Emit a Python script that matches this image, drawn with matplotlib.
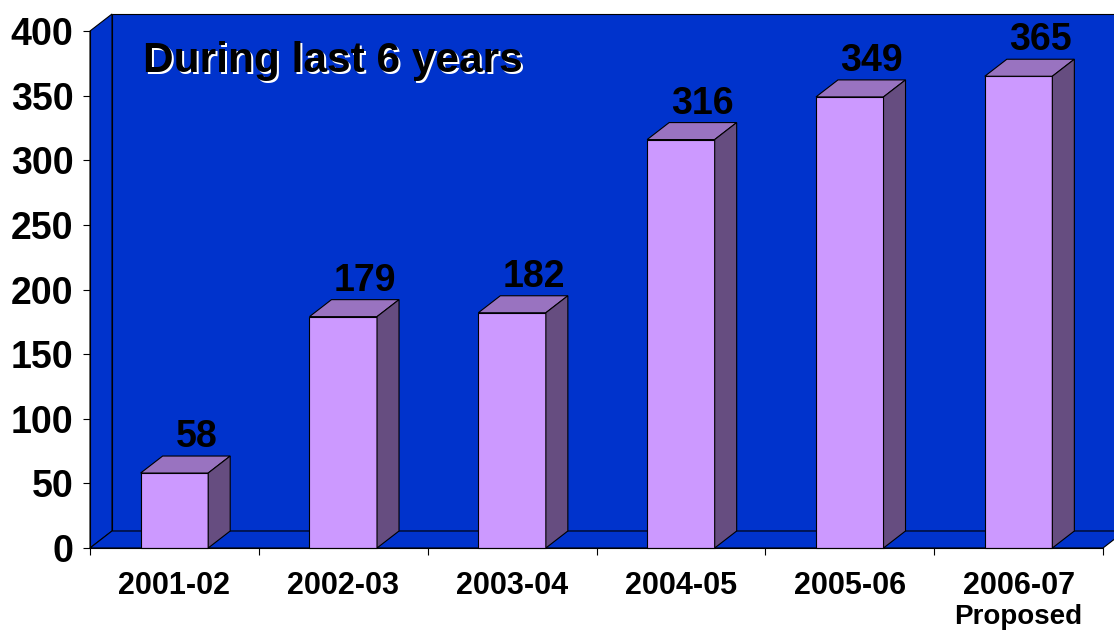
import matplotlib.pyplot as plt
from matplotlib.patches import Polygon, Rectangle
from matplotlib.transforms import offset_copy

# data
years = ["2001-02", "2002-03", "2003-04", "2004-05", "2005-06", "2006-07"]
values = [58, 179, 182, 316, 349, 365]
yticks = [0, 50, 100, 150, 200, 250, 300, 350, 400]
title = "During last 6 years"

wall = "#0033cc"
front = "#cc99ff"
top = "#9973c0"
side = "#664d80"

plt.rcParams['font.family'] = ['Liberation Sans', 'DejaVu Sans']
plt.rcParams['font.weight'] = 'bold'

fig = plt.figure(figsize=(11.14, 6.30), dpi=100)
ax = fig.add_axes([90/1114, 82/630, 1013/1114, 517/630])
ax.set_xlim(0, 6)
ax.set_ylim(0, 400)

# 3d depth offset (in data units)
DX = 22 / (1013 / 6)
DY = 17 * 400 / 517
n = len(years)

# walls and floor
ax.add_patch(Polygon([(DX, DY), (n + 1, DY), (n + 1, 400 + DY), (DX, 400 + DY)],
                     closed=True, fc=wall, ec='black', lw=0.8, clip_on=False, zorder=1))
ax.add_patch(Polygon([(0, 0), (DX, DY), (DX, 400 + DY), (0, 400)],
                     closed=True, fc=wall, ec='black', lw=0.8, clip_on=False, zorder=1))
ax.add_patch(Polygon([(0, 0), (n, 0), (n + DX, DY), (DX, DY)],
                     closed=True, fc=wall, ec='black', lw=0.8, clip_on=False, zorder=1))

w = 0.4
for i, v in enumerate(values):
    x0 = i + 0.5 - w / 2
    x1 = x0 + w
    ax.add_patch(Rectangle((x0, 0), w, v, fc=front, ec='black', lw=0.8, zorder=3, clip_on=False))
    ax.add_patch(Polygon([(x0, v), (x1, v), (x1 + DX, v + DY), (x0 + DX, v + DY)],
                         closed=True, fc=top, ec='black', lw=0.8, zorder=3, clip_on=False))
    ax.add_patch(Polygon([(x1, 0), (x1 + DX, DY), (x1 + DX, v + DY), (x1, v)],
                         closed=True, fc=side, ec='black', lw=0.8, zorder=3, clip_on=False))
    ax.text(i + 0.5 + DX, v + DY + 7, str(v), ha='center', va='baseline',
            fontsize=27, fontweight='bold', zorder=5, clip_on=False)

# title with white shadow
shadow = offset_copy(ax.transData, fig=fig, x=2, y=-2, units='dots')
ax.text(0.314, 368, title, fontsize=30.5, fontweight='bold', color='white',
        va='baseline', ha='left', transform=shadow, zorder=4)
ax.text(0.314, 368, title, fontsize=30.5, fontweight='bold', color='black',
        va='baseline', ha='left', zorder=5)

# axes
for s in ['top', 'right']:
    ax.spines[s].set_visible(False)
ax.spines['left'].set_zorder(6)
ax.spines['bottom'].set_zorder(6)
ax.set_yticks(yticks)
ax.set_yticklabels([str(t) for t in yticks], fontsize=27, fontweight='bold')
ax.tick_params(axis='y', length=5, width=0.8, pad=7)
ax.set_xticks(range(n + 1))
ax.set_xticklabels([])
ax.tick_params(axis='x', length=5, width=0.8)

xt = ax.get_xaxis_transform()
for i, lab in enumerate(years):
    ax.text(i + 0.5, -0.0735, lab, transform=xt, ha='center', va='center',
            fontsize=22, fontweight='bold')
ax.text(n - 0.5, -0.134, "Proposed", transform=xt, ha='center', va='center',
        fontsize=20, fontweight='bold')

fig.savefig('out.png', dpi=100)
